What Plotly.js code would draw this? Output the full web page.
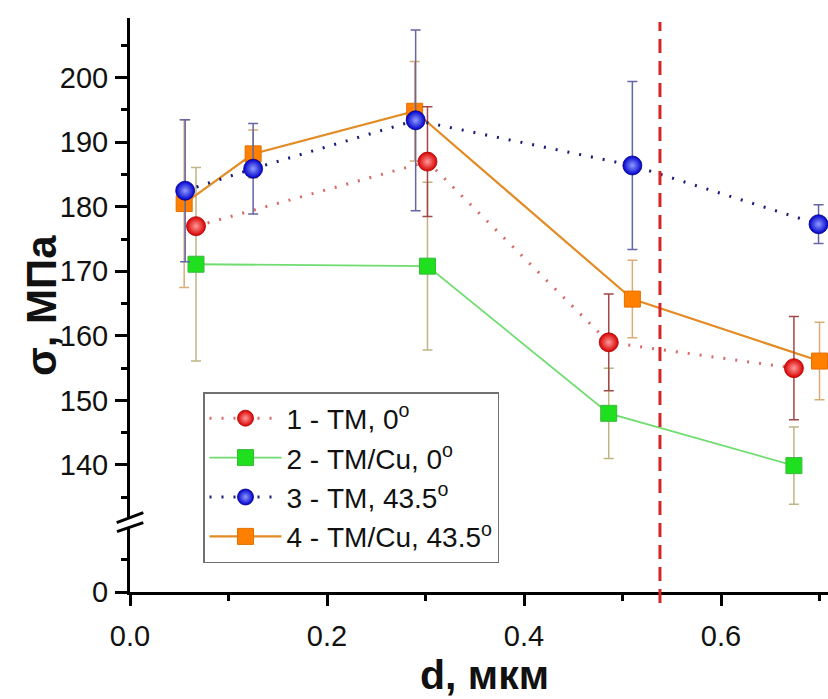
<!DOCTYPE html>
<html>
<head>
<meta charset="utf-8">
<script src="https://cdn.plot.ly/plotly-3.0.1.min.js"></script>
<style>html,body{margin:0;padding:0;background:#fff;}</style>
</head>
<body>
<div id="chart" style="width:828px;height:699px;"></div>
<script>
// ---- data ----
const names = ['1 - ТМ, 0<sup>o</sup>', '2 - ТМ/Cu, 0<sup>o</sup>', '3 - ТМ, 43.5<sup>o</sup>', '4 - ТМ/Cu, 43.5<sup>o</sup>'];

const x1 = [0.067, 0.302, 0.486, 0.674];
const y1 = [177.0, 187.0, 159.0, 155.0];
const e1 = [0, 8.5, 7.5, 8.0];

const x2 = [0.067, 0.302, 0.486, 0.674];
const y2 = [171.1, 170.8, 148.0, 139.9];
const e2 = [15.0, 13.0, 7.0, 6.0];

const x3 = [0.056, 0.125, 0.290, 0.510, 0.699];
const y3 = [182.5, 185.9, 193.4, 186.4, 177.3];
const e3 = [11.0, 7.0, 14.0, 13.0, 3.0];

const x4 = [0.055, 0.125, 0.289, 0.510, 0.700];
const y4 = [180.5, 188.2, 194.8, 165.7, 156.1];
const e4 = [13.0, 3.7, 7.7, 6.0, 6.0];

const xTickVals = [0, 0.2, 0.4, 0.6];
const xTickText = ['0.0', '0.2', '0.4', '0.6'];
const yTickVals = [140, 150, 160, 170, 180, 190, 200];
const yLowTickVals = [0];
const xTitle = '<b>d, мкм</b>';
const yTitle = '<b>σ, МПа</b>';
const markerX = 0.538;   // dashed vertical marker line position

// ---- traces ----
const tGreen = {
  x: x2, y: y2, name: names[1], legendrank: 2, legendgroup: 'g2', type: 'scatter', mode: 'lines+markers',
  line: {color: '#6fdc6f', width: 1.8},
  marker: {symbol: 'square', size: 16, color: '#1fe01f', line: {color: '#3cb83c', width: 1}},
  error_y: {type: 'data', array: e2, visible: true, color: '#bdb684', thickness: 1.5, width: 5}
};
const tOrange = {
  x: x4, y: y4, name: names[3], legendrank: 4, legendgroup: 'g4', type: 'scatter', mode: 'lines+markers',
  line: {color: '#e38c25', width: 2.2},
  marker: {symbol: 'square', size: 16, color: '#ff7f00', line: {color: '#e07000', width: 1}},
  error_y: {type: 'data', array: e4, visible: true, color: '#d9ac78', thickness: 1.5, width: 5}
};
const tRed = {
  x: x1, y: y1, name: names[0], legendrank: 1, legendgroup: 'g1', type: 'scatter', mode: 'lines+markers',
  line: {color: '#d76a66', width: 3, dash: '2px,10px'},
  marker: {symbol: 'circle', size: 19, color: '#d80000', gradient: {type: 'radial', color: '#ff9a9a'}, line: {color: '#b00000', width: 0.8}},
  error_y: {type: 'data', array: e1, visible: true, color: '#a24848', thickness: 1.5, width: 5}
};
const tBlue = {
  x: x3, y: y3, name: names[2], legendrank: 3, legendgroup: 'g3', type: 'scatter', mode: 'lines+markers',
  line: {color: '#1a1a78', width: 3, dash: '2px,10px'},
  marker: {symbol: 'circle', size: 19, color: '#0000cc', gradient: {type: 'radial', color: '#8f9cff'}, line: {color: '#00008a', width: 0.8}},
  error_y: {type: 'data', array: e3, visible: true, color: '#6464a8', thickness: 1.5, width: 5}
};
// empty trace that only makes the lower (broken) axis segment exist
const tLowAxis = {x: [null], y: [null], xaxis: 'x', yaxis: 'y2', type: 'scatter', mode: 'markers',
  showlegend: false, hoverinfo: 'skip'};

// ---- geometry helpers (pixel -> paper) ----
const L = 130, W = 698, T = 18, H = 574;
const px = v => (v - L) / W;
const py = v => (T + H - v) / H;
const split = py(527);

const axisCommon = {
  showline: true, linewidth: 3, linecolor: '#000', ticks: 'outside', tickwidth: 3,
  tickcolor: '#000', showgrid: false, zeroline: false, tickfont: {size: 29, color: '#111'}
};

const layout = {
  width: 828, height: 699,
  margin: {l: L, r: 0, t: T, b: 699 - T - H},
  paper_bgcolor: '#fff', plot_bgcolor: '#fff',
  font: {family: 'Liberation Sans, Arial, sans-serif', color: '#000'},
  showlegend: true,
  legend: {
    x: px(203), y: py(392), xanchor: 'left', yanchor: 'top',
    bordercolor: '#707070', borderwidth: 1.5, bgcolor: '#fff',
    font: {size: 28, color: '#111'}, tracegroupgap: 0, itemwidth: 72
  },
  xaxis: Object.assign({}, axisCommon, {
    range: [0, 0.7086], anchor: 'y2', domain: [0, 1],
    tickvals: xTickVals, ticktext: xTickText, ticklen: 11, ticklabelstandoff: 5,
    minor: {dtick: 0.1, tick0: 0, ticks: 'outside', ticklen: 6, tickwidth: 3, tickcolor: '#000', showgrid: false}
  }),
  yaxis: Object.assign({}, axisCommon, {
    domain: [split, 1], range: [130.39, 209.25], anchor: 'x',
    tickvals: yTickVals, ticklen: 12, ticklabelstandoff: 1,
    minor: {dtick: 5, tick0: 0, ticks: 'outside', ticklen: 6, tickwidth: 3, tickcolor: '#000', showgrid: false}
  }),
  yaxis2: Object.assign({}, axisCommon, {
    domain: [0, split], range: [0, 10.07], anchor: 'x',
    tickvals: yLowTickVals, ticklen: 12, ticklabelstandoff: 1,
    minor: {dtick: 5, tick0: 0, ticks: 'outside', ticklen: 6, tickwidth: 3, tickcolor: '#000', showgrid: false}
  }),
  shapes: [
    {type: 'line', xref: 'x', yref: 'paper', x0: markerX, x1: markerX, y0: py(603), y1: py(22),
     line: {color: '#d42626', width: 3, dash: '14px,8px'}},
    {type: 'path', xref: 'paper', yref: 'paper',
     path: `M ${px(116.7)} ${py(522.7)} L ${px(143.3)} ${py(512.7)} L ${px(143.3)} ${py(522.7)} L ${px(117)} ${py(531.7)} Z`,
     fillcolor: '#fff', line: {width: 0}},
    {type: 'line', xref: 'paper', yref: 'paper', x0: px(116.7), y0: py(522.7), x1: px(143.3), y1: py(512.7),
     line: {color: '#000', width: 3}},
    {type: 'line', xref: 'paper', yref: 'paper', x0: px(117), y0: py(531.7), x1: px(143.3), y1: py(522.7),
     line: {color: '#000', width: 3}}
  ],
  annotations: [
    {text: yTitle, xref: 'paper', yref: 'paper', x: px(41), y: py(306),
     textangle: -90, showarrow: false, xanchor: 'center', yanchor: 'middle',
     font: {size: 42, color: '#111'}},
    {text: xTitle, xref: 'paper', yref: 'paper', x: px(484), y: py(700),
     showarrow: false, xanchor: 'center', yanchor: 'bottom',
     font: {size: 41, color: '#111'}}
  ]
};

Plotly.newPlot('chart', [tGreen, tOrange, tRed, tBlue, tLowAxis], layout, {displayModeBar: false, staticPlot: true});
</script>
</body>
</html>
